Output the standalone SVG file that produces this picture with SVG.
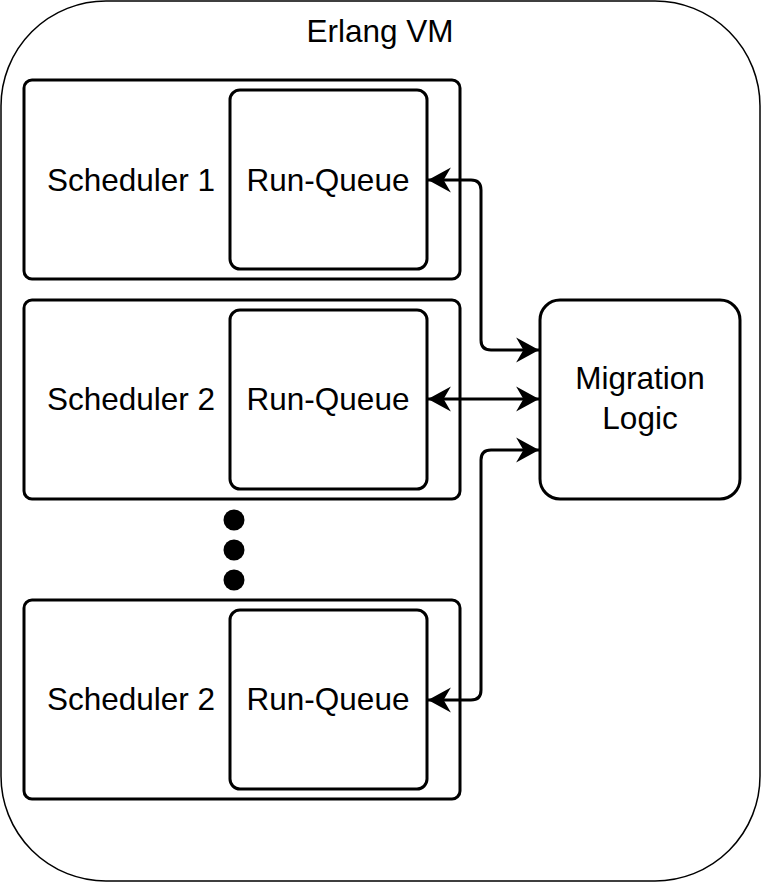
<svg xmlns="http://www.w3.org/2000/svg" width="761" height="882" viewBox="0 0 761 882">
<style>
.box{fill:#fff;stroke:#000;stroke-width:3}
.t{font-family:"Liberation Sans",Arial,sans-serif;font-size:31.5px;fill:#000;text-anchor:middle}
.c{fill:none;stroke:#000;stroke-width:3}
</style>
<defs>
<marker id="ah" markerUnits="userSpaceOnUse" markerWidth="26" markerHeight="28" viewBox="-23 -13 25 26" refX="0" refY="0" orient="auto-start-reverse">
<path d="M0,0 L-22,-12 L-15,0 L-22,12 Z" fill="#000"/>
</marker>
</defs>
<g id="erlang-vm">
<rect x="1" y="1" width="759" height="880" rx="105" ry="105" fill="#fff" stroke="#000" stroke-width="1.5"/>
<text class="t" x="380" y="42">Erlang VM</text>
</g>
<g id="scheduler1">
<rect class="box" x="24" y="80" width="436" height="199" rx="8"/>
<text class="t" x="131" y="191">Scheduler 1</text>
</g>
<g id="runqueue1">
<rect class="box" x="230" y="90" width="197" height="179" rx="10"/>
<text class="t" x="328" y="191">Run-Queue</text>
</g>
<g id="scheduler2">
<rect class="box" x="24" y="300" width="436" height="199" rx="8"/>
<text class="t" x="131" y="410">Scheduler 2</text>
</g>
<g id="runqueue2">
<rect class="box" x="230" y="310" width="197" height="179" rx="10"/>
<text class="t" x="328" y="410">Run-Queue</text>
</g>
<g id="ellipsis">
<circle cx="234" cy="520" r="10.5" fill="#000"/>
<circle cx="234" cy="550" r="10.5" fill="#000"/>
<circle cx="234" cy="580" r="10.5" fill="#000"/>
</g>
<g id="scheduler3">
<rect class="box" x="24" y="600" width="436" height="199" rx="8"/>
<text class="t" x="131" y="710">Scheduler 2</text>
</g>
<g id="runqueue3">
<rect class="box" x="230" y="610" width="197" height="179" rx="10"/>
<text class="t" x="328" y="710">Run-Queue</text>
</g>
<g id="migration-logic">
<rect class="box" x="540" y="300" width="200" height="199" rx="20"/>
<text class="t" x="640" y="389">Migration</text>
<text class="t" x="640" y="429">Logic</text>
</g>
<g id="connectors">
<path class="c" d="M428,180 L471,180 Q481,180 481,190 L481,340 Q481,350 491,350 L539,350" marker-start="url(#ah)" marker-end="url(#ah)"/>
<path class="c" d="M428,399 L539,399" marker-start="url(#ah)" marker-end="url(#ah)"/>
<path class="c" d="M428,700 L471,700 Q481,700 481,690 L481,460 Q481,450 491,450 L539,450" marker-start="url(#ah)" marker-end="url(#ah)"/>
</g>
</svg>
